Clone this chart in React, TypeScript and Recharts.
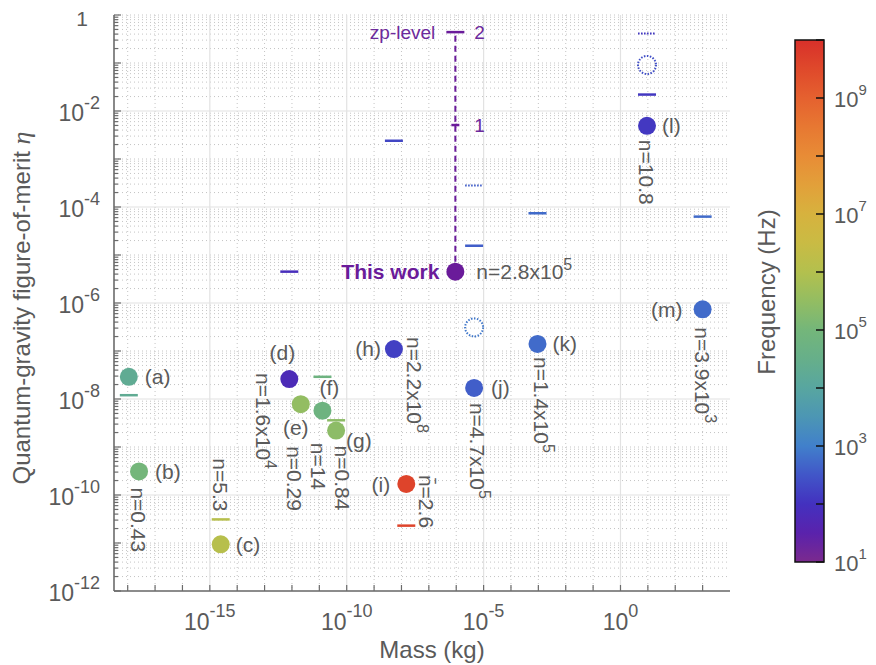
import React from "react";
import { ScatterChart, Scatter, XAxis, YAxis, CartesianGrid } from "recharts";

const FONT = '"Liberation Sans", Arial, Helvetica, sans-serif';
const GRAY = "#5a5a5a";
const AXIS = "#6b6b6b";
const PURPLE = "#6a1b9a";

// measured systems (a)..(m)
const pointIds = ["a", "b", "c", "d", "e", "f", "g", "h", "i", "j", "k", "l", "m"];
const pointMass = [1.1e-18, 2.6e-18, 2.5e-15, 8e-13, 2.1e-12, 1.3e-11, 4.1e-11, 5.3e-9, 1.5e-8, 4.5e-6, 9.3e-4, 9.3, 1.0e3];
const pointEta = [2.9e-8, 3.1e-10, 9.4e-12, 2.6e-8, 7.8e-9, 5.7e-9, 2.2e-9, 1.1e-7, 1.7e-10, 1.7e-8, 1.4e-7, 4.9e-3, 7.4e-7];
const pointFreqLog = [4.3, 5.0, 6.1, 1.8, 5.5, 4.8, 5.4, 2.2, 9.6, 2.6, 2.75, 2.1, 2.75];
const pointOcc = ["", "n=0.43", "n=5.3", "n=1.6x10^4", "n=0.29", "n=14", "n=0.84", "n=2.2x10^8", "n\u0304=2.6", "n=4.7x10^5", "n=1.4x10^5", "n=10.8", "n=3.9x10^3"];

// short bars (other estimates)
const dashMass = [1.1e-18, 2.5e-15, 1.3e-11, 4.1e-11, 1.5e-8, 5.3e-9, 4.5e-6, 9.3e-4, 4.5e-6, 8e-13, 9.3, 9.3, 1.0e3];
const dashEta = [1.2e-8, 3.1e-11, 2.9e-8, 3.6e-9, 2.3e-11, 2.4e-3, 2.8e-4, 7.4e-5, 1.56e-5, 4.5e-6, 2.2e-2, 0.41, 6.3e-5];
const dashFreqLog = [4.3, 6.1, 4.8, 5.4, 9.6, 2.3, 2.6, 2.75, 2.6, 1.9, 2.1, 2.1, 2.75];
const dashKind = ["solid", "solid", "solid", "solid", "solid", "solid", "dotted", "solid", "solid", "solid", "solid", "dotted", "solid"];

// open (proposed) markers
const openMass = [4.5e-6, 9.3];
const openEta = [3.1e-7, 0.091];
const openFreqLog = [2.6, 2.1];

// this work and zero-point levels
const thisMass = 9.3e-7;
const thisEta = 4.5e-6;
const thisOcc = "n=2.8x10^5";
const zpLevels = ["1", "2"];
const zpEta = [5.1e-3, 0.44];

const xTickExp = [-18, -17, -16, -15, -14, -13, -12, -11, -10, -9, -8, -7, -6, -5, -4, -3, -2, -1, 0, 1, 2, 3];
const yDecades = [-12, -11, -10, -9, -8, -7, -6, -5, -4, -3, -2, -1];
const cbarDecades = [1, 2, 3, 4, 5, 6, 7, 8, 9, 10];

const cmap: [number, string][] = [
  [1.0, "#7b2a8e"], [1.5, "#5a22ac"], [2.0, "#4331bf"], [2.5, "#4156c8"], [3.0, "#4180cb"],
  [3.5, "#4c96b4"], [4.0, "#58a6a0"], [4.5, "#66af8a"], [5.0, "#74b67a"], [5.5, "#93bd62"],
  [6.0, "#b3c04e"], [6.5, "#c9bb44"], [7.0, "#d7b23e"], [7.5, "#e2a03a"], [8.0, "#e88c36"],
  [8.5, "#e77832"], [9.0, "#e5612f"], [9.5, "#df492b"], [10.0, "#d8302a"],
];

function freqColor(lf: number) {
  const hex = (s: string) => [1, 3, 5].map((i) => parseInt(s.slice(i, i + 2), 16));
  if (lf <= cmap[0][0]) return cmap[0][1];
  for (let i = 1; i < cmap.length; i++) {
    if (lf <= cmap[i][0]) {
      const t = (lf - cmap[i - 1][0]) / (cmap[i][0] - cmap[i - 1][0]);
      const a = hex(cmap[i - 1][1]);
      const b = hex(cmap[i][1]);
      const c = a.map((v, k) => Math.round(v + (b[k] - v) * t));
      return `rgb(${c[0]},${c[1]},${c[2]})`;
    }
  }
  return cmap[cmap.length - 1][1];
}

const points = pointIds.map((id, i) => ({ id, mass: pointMass[i], eta: pointEta[i], f: pointFreqLog[i], occ: pointOcc[i] }));
const dashes = dashMass.map((m, i) => ({ mass: m, eta: dashEta[i], f: dashFreqLog[i], kind: dashKind[i] }));
const opens = openMass.map((m, i) => ({ mass: m, eta: openEta[i], f: openFreqLog[i] }));
const thisWork = [{ mass: thisMass, eta: thisEta, occ: thisOcc }];
const zp = zpLevels.map((l, i) => ({ mass: thisMass, eta: zpEta[i], level: l }));
const zpLine = [{ mass: thisMass, eta: thisEta }, { mass: thisMass, eta: zpEta[zpEta.length - 1] }];

const xTicks = xTickExp.map((e) => Math.pow(10, e));
const yTicks: number[] = [];
yDecades.forEach((n) => [1, 2, 3, 4, 5, 6, 7, 8, 9].forEach((k) => yTicks.push(k * Math.pow(10, n))));
yTicks.push(1);

const xMajor = xTicks.filter((v) => Math.round(Math.log10(v)) % 5 === 0);
const xMinor = xTicks.filter((v) => Math.round(Math.log10(v)) % 5 !== 0);
const yMajor = yDecades.filter((n) => n % 2 === 0).map((n) => Math.pow(10, n));
const yMinor = yTicks.filter((v) => !yMajor.some((m) => Math.abs(v / m - 1) < 1e-6));

// label placement, pixel offsets from marker centre
const place: Record<string, { lx: number; ly: number; la: "start" | "middle" | "end"; nx: number; ny: number }> = {
  a: { lx: 16, ly: 0, la: "start", nx: 0, ny: 0 },
  b: { lx: 16, ly: 0, la: "start", nx: 0, ny: 16 },
  c: { lx: 15, ly: 0, la: "start", nx: 0, ny: -86 },
  d: { lx: -7, ly: -26, la: "middle", nx: -26, ny: -6 },
  e: { lx: -5, ly: 23, la: "middle", nx: -6, ny: 42 },
  f: { lx: 7, ly: -23, la: "middle", nx: -4, ny: 32 },
  g: { lx: 10, ly: 10, la: "start", nx: 6, ny: 15 },
  h: { lx: -13, ly: 0, la: "end", nx: 21, ny: -12 },
  i: { lx: -16, ly: 1, la: "end", nx: 20, ny: -9 },
  j: { lx: 17, ly: 0, la: "start", nx: 3, ny: 15 },
  k: { lx: 15, ly: 0, la: "start", nx: 4, ny: 13 },
  l: { lx: 15, ly: 0, la: "start", nx: 0, ny: 14 },
  m: { lx: -20, ly: 0, la: "end", nx: 0, ny: 18 },
};

function Sup({ x, y, text, size, supSize, anchor, fill, rotate, bold }: any) {
  const [base, sup] = text.split("^");
  return (
    <text
      x={x}
      y={y}
      transform={rotate ? `rotate(${rotate} ${x} ${y})` : undefined}
      dy={rotate ? "0.36em" : "0.35em"}
      textAnchor={anchor || "start"}
      fontSize={size}
      fontFamily={FONT}
      fontWeight={bold ? "bold" : "normal"}
      fill={fill || GRAY}
    >
      {base}
      {sup && (
        <tspan dy={-size * 0.45} fontSize={supSize}>
          {sup}
        </tspan>
      )}
    </text>
  );
}

const PointShape = (props: any) => {
  const { cx, cy, payload } = props;
  const p = place[payload.id];
  return (
    <g>
      <circle cx={cx} cy={cy} r={9} fill={freqColor(payload.f)} />
      <text x={cx + p.lx} y={cy + p.ly} dy="0.35em" textAnchor={p.la} fontSize={21} fontFamily={FONT} fill={GRAY}>
        ({payload.id})
      </text>
      {payload.occ && <Sup x={cx + p.nx} y={cy + p.ny} text={payload.occ} size={21} supSize={16} rotate={90} />}
    </g>
  );
};

const DashShape = (props: any) => {
  const { cx, cy, payload } = props;
  const dotted = payload.kind === "dotted";
  return (
    <line
      x1={cx - 9}
      x2={cx + 9}
      y1={cy}
      y2={cy}
      stroke={freqColor(payload.f)}
      strokeWidth={dotted ? 2 : 2.5}
      strokeDasharray={dotted ? "1.6 1.4" : undefined}
    />
  );
};

const OpenShape = (props: any) => {
  const { cx, cy, payload } = props;
  return <circle cx={cx} cy={cy} r={9} fill="none" stroke={freqColor(payload.f + 0.3)} strokeWidth={2} strokeDasharray="1.5 1.5" />;
};

const ThisShape = (props: any) => {
  const { cx, cy, payload } = props;
  return (
    <g>
      <circle cx={cx} cy={cy} r={9} fill={PURPLE} />
      <text x={cx - 16} y={cy} dy="0.35em" textAnchor="end" fontSize={21} fontWeight="bold" fontFamily={FONT} fill={PURPLE}>
        This work
      </text>
      <Sup x={cx + 21} y={cy} text={payload.occ} size={21} supSize={16} />
    </g>
  );
};

const ZpShape = (props: any) => {
  const { cx, cy, payload } = props;
  const top = payload.level === "2";
  const half = top ? 9 : 4;
  return (
    <g>
      <line x1={cx - half} x2={cx + half} y1={cy} y2={cy} stroke={PURPLE} strokeWidth={2.5} />
      <text x={cx + 19} y={cy} dy="0.35em" fontSize={19} fontFamily={FONT} fill="#6c2a9c">
        {payload.level}
      </text>
      {top && (
        <text x={cx - 20} y={cy} dy="0.35em" textAnchor="end" fontSize={19} fontFamily={FONT} fill="#6c2a9c">
          zp-level
        </text>
      )}
    </g>
  );
};

const Empty = () => <g />;

const XTickBottom = (props: any) => {
  const { x, y, payload } = props;
  const e = Math.round(Math.log10(payload.value));
  return (
    <g>
      <line x1={x} x2={x} y1={y} y2={y - 6} stroke={AXIS} strokeWidth={1.2} />
      {e % 5 === 0 && (
        <text x={x} y={y + 39} textAnchor="middle" fontSize={23} fontFamily={FONT} fill={GRAY}>
          10
          <tspan dy={-13} fontSize={18}>
            {e}
          </tspan>
        </text>
      )}
    </g>
  );
};

const XTickTop = (props: any) => {
  const { x, y } = props;
  return <line x1={x} x2={x} y1={y} y2={y + 6} stroke={AXIS} strokeWidth={1.2} />;
};

const yInfo = (v: number) => {
  const n = Math.floor(Math.log10(v) + 1e-9);
  const k = Math.round(v / Math.pow(10, n));
  return { n, k };
};

const YTickLeft = (props: any) => {
  const { x, y, payload } = props;
  const { n, k } = yInfo(payload.value);
  const len = k === 1 ? 7 : 4;
  return (
    <g>
      <line x1={x} x2={x + len} y1={y} y2={y} stroke={AXIS} strokeWidth={1.2} />
      {k === 1 && n % 2 === 0 && n < 0 && (
        <text x={x - 14} y={y + 10} textAnchor="end" fontSize={23} fontFamily={FONT} fill={GRAY}>
          10
          <tspan dy={-12} fontSize={18}>
            {n}
          </tspan>
        </text>
      )}
      {k === 1 && n === 0 && (
        <text x={x - 26} y={y + 11} textAnchor="end" fontSize={21} fontFamily={FONT} fill={GRAY}>
          1
        </text>
      )}
    </g>
  );
};

const YTickRight = (props: any) => {
  const { x, y, payload } = props;
  const { k } = yInfo(payload.value);
  const len = k === 1 ? 7 : 4;
  return <line x1={x} x2={x - len} y1={y} y2={y} stroke={AXIS} strokeWidth={1.2} />;
};

function Colorbar() {
  const x0 = 787;
  const y0 = 32;
  const w = 29;
  const h = 522;
  const fy = (lf: number) => y0 + (h * (10 - lf)) / 9;
  const stops = [...cmap].reverse();
  return (
    <svg width={860} height={657} style={{ position: "absolute", left: 0, top: 0, pointerEvents: "none" }}>
      <defs>
        <linearGradient id="cbar" x1="0" y1="0" x2="0" y2="1">
          {stops.map(([lf, c]) => (
            <stop key={lf} offset={(10 - lf) / 9} stopColor={c} />
          ))}
        </linearGradient>
      </defs>
      <rect x={x0} y={y0} width={w} height={h} fill="url(#cbar)" stroke="#111" strokeWidth={1.5} />
      {cbarDecades.map((d) => (
        <line key={d} x1={x0 + w - 8} x2={x0 + w} y1={fy(d)} y2={fy(d)} stroke="#111" strokeWidth={1.5} />
      ))}
      {cbarDecades
        .filter((d) => d % 2 === 1)
        .map((d) => (
          <text key={d} x={x0 + w + 10} y={fy(d) + 9} fontSize={22} fontFamily={FONT} fill={GRAY}>
            10
            <tspan dy={-12} fontSize={15}>
              {d}
            </tspan>
          </text>
        ))}
      <text
        x={767}
        y={284}
        transform="rotate(-90 767 284)"
        textAnchor="middle"
        fontSize={24}
        fontFamily={FONT}
        fill={GRAY}
      >
        Frequency (Hz)
      </text>
    </svg>
  );
}

export default function App() {
  return (
    <div style={{ position: "relative", width: 860, height: 657, fontFamily: FONT }}>
      <ScatterChart width={860} height={657} margin={{ top: 7, right: 138, bottom: 0, left: 0 }}>
        <CartesianGrid
          horizontalValues={yMinor}
          verticalValues={xMinor}
          stroke="#c4c4c4"
          strokeDasharray="1 3"
          strokeWidth={1}
        />
        <CartesianGrid horizontalValues={yMajor} verticalValues={xMajor} stroke="#e2e2e2" strokeWidth={1.2} />
        <XAxis
          dataKey="mass"
          type="number"
          scale="log"
          domain={[Math.pow(10, -18.5), 1e4]}
          allowDataOverflow
          ticks={xTicks}
          interval={0}
          tick={<XTickBottom />}
          tickLine={false}
          tickSize={0}
          tickMargin={0}
          height={74}
          axisLine={{ stroke: AXIS, strokeWidth: 1.6 }}
        />
        <XAxis
          xAxisId="top"
          orientation="top"
          dataKey="mass"
          type="number"
          scale="log"
          domain={[Math.pow(10, -18.5), 1e4]}
          allowDataOverflow
          ticks={xTicks}
          interval={0}
          tick={<XTickTop />}
          tickLine={false}
          tickSize={0}
          tickMargin={0}
          height={0}
          axisLine={{ stroke: AXIS, strokeWidth: 1.6 }}
        />
        <YAxis
          dataKey="eta"
          type="number"
          scale="log"
          domain={[1e-12, 1]}
          allowDataOverflow
          ticks={yTicks}
          interval={0}
          tick={<YTickLeft />}
          tickLine={false}
          tickSize={0}
          tickMargin={0}
          width={106}
          axisLine={{ stroke: AXIS, strokeWidth: 1.6 }}
        />
        <YAxis
          yAxisId="right"
          orientation="right"
          dataKey="eta"
          type="number"
          scale="log"
          domain={[1e-12, 1]}
          allowDataOverflow
          ticks={yTicks}
          interval={0}
          tick={<YTickRight />}
          tickLine={false}
          tickSize={0}
          tickMargin={0}
          width={0}
          axisLine={{ stroke: AXIS, strokeWidth: 1.6 }}
        />
        <Scatter
          data={zpLine}
          shape={<Empty />}
          line={{ stroke: PURPLE, strokeWidth: 2, strokeDasharray: "6 4" }}
          isAnimationActive={false}
        />
        <Scatter data={dashes} shape={<DashShape />} isAnimationActive={false} />
        <Scatter data={opens} shape={<OpenShape />} isAnimationActive={false} />
        <Scatter data={zp} shape={<ZpShape />} isAnimationActive={false} />
        <Scatter data={points} shape={<PointShape />} isAnimationActive={false} />
        <Scatter data={thisWork} shape={<ThisShape />} isAnimationActive={false} />
        <text x={424} y={650} textAnchor="middle" fontSize={24} fontFamily={FONT} fill={GRAY}>
          Mass (kg)
        </text>
        <text
          x={22}
          y={300}
          transform="rotate(-90 22 300)"
          textAnchor="middle"
          fontSize={24}
          fontFamily={FONT}
          fill={GRAY}
        >
          Quantum-gravity figure-of-merit{"  "}
          <tspan fontFamily='"Liberation Serif", "DejaVu Serif", serif' fontStyle="italic" fontSize={26}>
            η
          </tspan>
        </text>
      </ScatterChart>
      <Colorbar />
    </div>
  );
}
